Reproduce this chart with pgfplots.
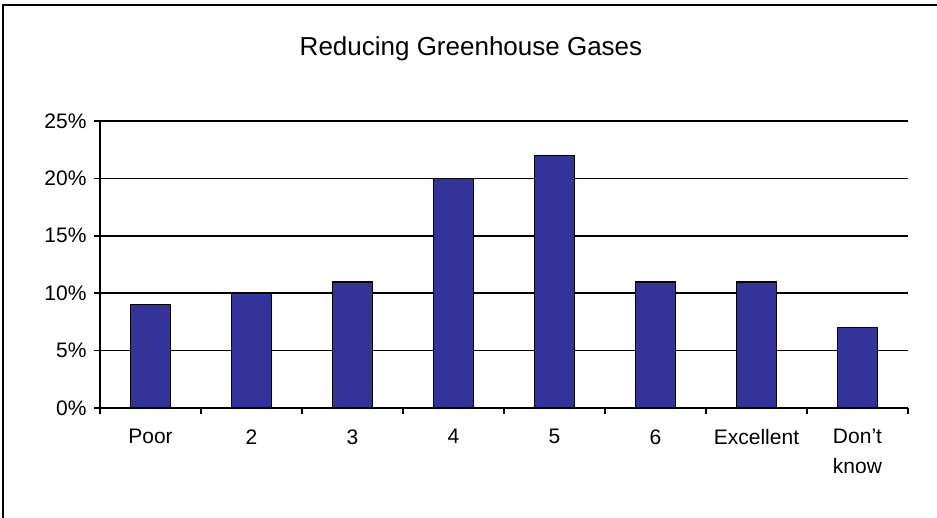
\documentclass[border=0pt]{standalone}
\usepackage{fontspec}
\setmainfont{Liberation Sans}
\usepackage{pgfplots}
\pgfplotsset{compat=1.18}
\definecolor{barblue}{RGB}{51,51,153}
\begin{document}
\begin{tikzpicture}[x=1pt,y=1pt]
\path[use as bounding box] (-100,-110) rectangle (837,408);
\begin{axis}[
  at={(0,0)}, anchor=south west,
  scale only axis, width=808pt, height=287pt,
  xmin=-0.5, xmax=7.5, ymin=0, ymax=25,
  axis x line*=bottom, axis y line*=left,
  axis line style={line width=1.6pt, -},
  ytick={0,5,10,15,20,25},
  yticklabels={0\%,5\%,10\%,15\%,20\%,25\%},
  ymajorgrids, grid style={black, line width=1.6pt},
  xtick={0,...,7},
  xticklabels={Poor,2,3,4,5,6,Excellent,{Don\symbol{39}t\\know}},
  minor xtick={-0.5,0.5,...,7.5},
  tick align=outside,
  major tick length=6pt, minor tick length=6pt,
  x tick style={draw=none},
  minor x tick style={draw=black, line width=1.6pt},
  y tick style={line width=1.6pt, black},
  tick label style={font=\fontsize{21}{30}\selectfont},
  xticklabel style={align=center, anchor=north, yshift=-12pt},
  yticklabel style={xshift=-4pt},
  enlargelimits=false, clip=false,
]
\addplot[ybar, bar width=40pt, fill=barblue, draw=black, line width=1.6pt]
  coordinates {(0,9) (1,10) (2,11) (3,20) (4,22) (5,11) (6,11) (7,7)};
\end{axis}
\node[anchor=base, font=\fontsize{26}{30}\selectfont] at (371,352) {Reducing Greenhouse Gases};
\draw[line width=2pt] (-97,-110) -- (-97,403) -- (837,403);
\end{tikzpicture}
\end{document}
